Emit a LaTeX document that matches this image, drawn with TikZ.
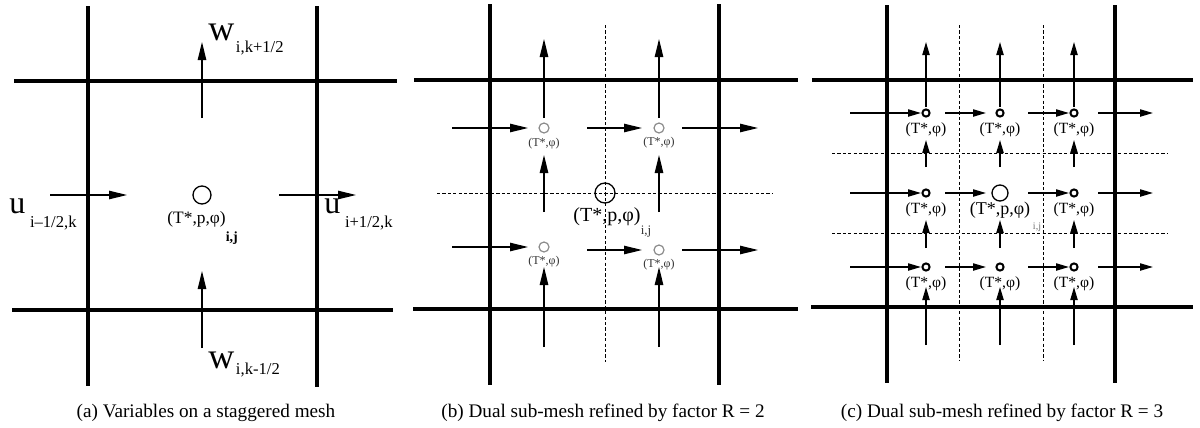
\documentclass[tikz,border=0pt]{standalone}
\usepackage{fontspec}
\setmainfont{Liberation Serif}
\usetikzlibrary{arrows.meta}
\newcommand{\vlab}[4]{{\fontsize{#4}{#4}\selectfont #1}\hspace{0.8pt}\raisebox{-#3}{\fontsize{8.3}{9}\selectfont #2}}
\tikzset{
  wall/.style   ={line width=2.1pt},
  subline/.style={line width=0.45pt,dash pattern=on 1.6pt off 1.1pt},
  flux/.style   ={-{Triangle[length=9pt,width=4.2pt]},line width=0.75pt},
  fluxs/.style  ={-{Triangle[length=6.5pt,width=3.6pt]},line width=0.75pt},
  cell/.style   ={circle,draw,line width=0.65pt,inner sep=0pt,minimum size=9pt},
  subcell/.style={circle,draw=black!45,line width=0.6pt,inner sep=0pt,minimum size=5pt},
  dot/.style    ={circle,draw,line width=1pt,inner sep=0pt,minimum size=3.6pt},
  lbl/.style    ={inner sep=0pt,font=\fontsize{6}{7}\selectfont,text=black!80},
  lblc/.style   ={inner sep=0pt,font=\fontsize{7.8}{9}\selectfont},
  captxt/.style ={inner sep=0pt,font=\fontsize{9.6}{11}\selectfont},
}
\begin{document}
\begin{tikzpicture}[x=0.5pt,y=-0.5pt]
  \useasboundingbox (0,0) rectangle (1200,428);

  % (a) variables on a staggered mesh
  \draw[wall] (88,6) -- (88,386);
  \draw[wall] (317,6) -- (317,387);
  \draw[wall] (14,81) -- (397,81);
  \draw[wall] (12,310) -- (393,310);

  \node[cell] (ac) at (202,195) {};
  \node[inner sep=0pt,font=\fontsize{8.7}{9}\selectfont,anchor=base west] (acl) at (167,223)
    {(T*,p,φ)\raisebox{-9pt}{\fontsize{7}{8}\selectfont\textbf{i,j}}};

  \coordinate (awt0) at (202,118);  \coordinate (awt1) at (202,42);
  \coordinate (awb0) at (202,348);  \coordinate (awb1) at (202,271);
  \coordinate (aul0) at (50,195);   \coordinate (aul1) at (127,195);
  \coordinate (aur0) at (279,195);  \coordinate (aur1) at (356,195);
  \draw[flux] (awt0) -- (awt1);
  \draw[flux] (awb0) -- (awb1);
  \draw[flux] (aul0) -- (aul1);
  \draw[flux] (aur0) -- (aur1);

  \node[inner sep=0pt,anchor=base west] (wtop) at (208,40) {\vlab{w}{i,k+1/2}{6pt}{18}};
  \node[inner sep=0pt,anchor=base west] (wbot) at (208,368) {\vlab{w}{i,k-1/2}{3pt}{18}};
  \node[inner sep=0pt,anchor=base west] (uleft) at (9,213) {\vlab{u\hspace{1.5pt}}{i\textendash1/2,k}{7pt}{16}};
  \node[inner sep=0pt,anchor=base west] (uright) at (324,213) {\vlab{u\hspace{1.5pt}}{i+1/2,k}{7pt}{16}};

  \node[captxt] (capa) at (206,413) {(a) Variables on a staggered mesh};

  % (b) dual sub-mesh, R = 2
  \draw[wall] (490,4) -- (490,385);
  \draw[wall] (719,4) -- (719,385);
  \draw[wall] (414,80) -- (798,80);
  \draw[wall] (413,309) -- (798,309);
  \draw[subline] (605,25) -- (605,362);
  \draw[subline] (437,193) -- (773,193);

  \node[cell,minimum size=10pt] (bc) at (605,193) {};
  \node[subcell] (b11) at (544,128) {};
  \node[subcell] (b12) at (659,128) {};
  \node[subcell] (b21) at (544,247) {};
  \node[subcell] (b22) at (659,250) {};
  \node[lbl] (b11l) at (544,144) {(T*,φ)};
  \node[lbl] (b12l) at (659,143) {(T*,φ)};
  \node[lbl] (b21l) at (544,262) {(T*,φ)};
  \node[lbl] (b22l) at (659,265) {(T*,φ)};
  \node[inner sep=0pt,font=\fontsize{10}{11}\selectfont] (bcl) at (607,217) {(T*,p,φ)};
  \node[lbl,font=\fontsize{6.5}{7}\selectfont] (bcs) at (646,232) {i,j};

  \foreach \x/\n in {544/1,659/2}{
    \coordinate (bv\n a) at (\x,118); \coordinate (bv\n b) at (\x,39);
    \coordinate (bv\n c) at (\x,212); \coordinate (bv\n d) at (\x,155);
    \coordinate (bv\n e) at (\x,347); \coordinate (bv\n f) at (\x,267);
    \draw[flux] (bv\n a) -- (bv\n b);
    \draw[flux] (bv\n c) -- (bv\n d);
    \draw[flux] (bv\n e) -- (bv\n f);
  }
  \foreach \y/\z/\n in {128/128/1,247/250/2}{
    \coordinate (bh\n a) at (452,\y); \coordinate (bh\n b) at (528,\y);
    \coordinate (bh\n c) at (587,\z); \coordinate (bh\n d) at (642,\z);
    \coordinate (bh\n e) at (682,\z); \coordinate (bh\n f) at (758,\z);
    \draw[flux] (bh\n a) -- (bh\n b);
    \draw[flux] (bh\n c) -- (bh\n d);
    \draw[flux] (bh\n e) -- (bh\n f);
  }

  \node[captxt] (capb) at (603,413) {(b) Dual sub-mesh refined by factor R = 2};

  % (c) dual sub-mesh, R = 3
  \draw[wall] (887,5) -- (887,383);
  \draw[wall] (1115,5) -- (1115,383);
  \draw[wall] (812,80) -- (1193,80);
  \draw[wall] (811,307) -- (1193,307);
  \draw[subline] (959,25) -- (959,360);
  \draw[subline] (1043,25) -- (1043,360);
  \draw[subline] (832,153) -- (1168,153);
  \draw[subline] (832,233) -- (1168,233);

  \node[cell,minimum size=8pt] (cc) at (1000,193) {};
  \foreach \x/\i in {926/1,1000/2,1074/3}{
    \foreach \y/\j in {113/1,193/2,267/3}{
      \ifnum\i\j=22\else
        \node[dot] (c\j\i) at (\x,\y) {};
        \node[lblc] (c\j\i l) at (\x,\y+17) {(T*,φ)};
      \fi
    }
    \coordinate (cv\i a) at (\x,107); \coordinate (cv\i b) at (\x,42);
    \coordinate (cv\i c) at (\x,167); \coordinate (cv\i d) at (\x,140);
    \coordinate (cv\i e) at (\x,248); \coordinate (cv\i f) at (\x,220);
    \coordinate (cv\i g) at (\x,345); \coordinate (cv\i h) at (\x,287);
    \draw[fluxs] (cv\i a) -- (cv\i b);
    \draw[fluxs] (cv\i c) -- (cv\i d);
    \draw[fluxs] (cv\i e) -- (cv\i f);
    \draw[fluxs] (cv\i g) -- (cv\i h);
  }
  \node[inner sep=0pt,font=\fontsize{9}{10}\selectfont] (ccl) at (1000,210) {(T*,p,φ)};
  \node[inner sep=0pt,font=\fontsize{5}{6}\selectfont,text=black!55] (ccs) at (1037,227) {i,j};

  \foreach \y/\j in {113/1,193/2,267/3}{
    \coordinate (ch\j a) at (850,\y);  \coordinate (ch\j b) at (921,\y);
    \coordinate (ch\j c) at (945,\y);  \coordinate (ch\j d) at (986,\y);
    \coordinate (ch\j e) at (1028,\y); \coordinate (ch\j f) at (1069,\y);
    \coordinate (ch\j g) at (1098,\y); \coordinate (ch\j h) at (1153,\y);
    \draw[fluxs] (ch\j a) -- (ch\j b);
    \draw[fluxs] (ch\j c) -- (ch\j d);
    \draw[fluxs] (ch\j e) -- (ch\j f);
    \draw[fluxs] (ch\j g) -- (ch\j h);
  }

  \node[captxt] (capc) at (1002,413) {(c) Dual sub-mesh refined by factor R = 3};
\end{tikzpicture}
\end{document}
